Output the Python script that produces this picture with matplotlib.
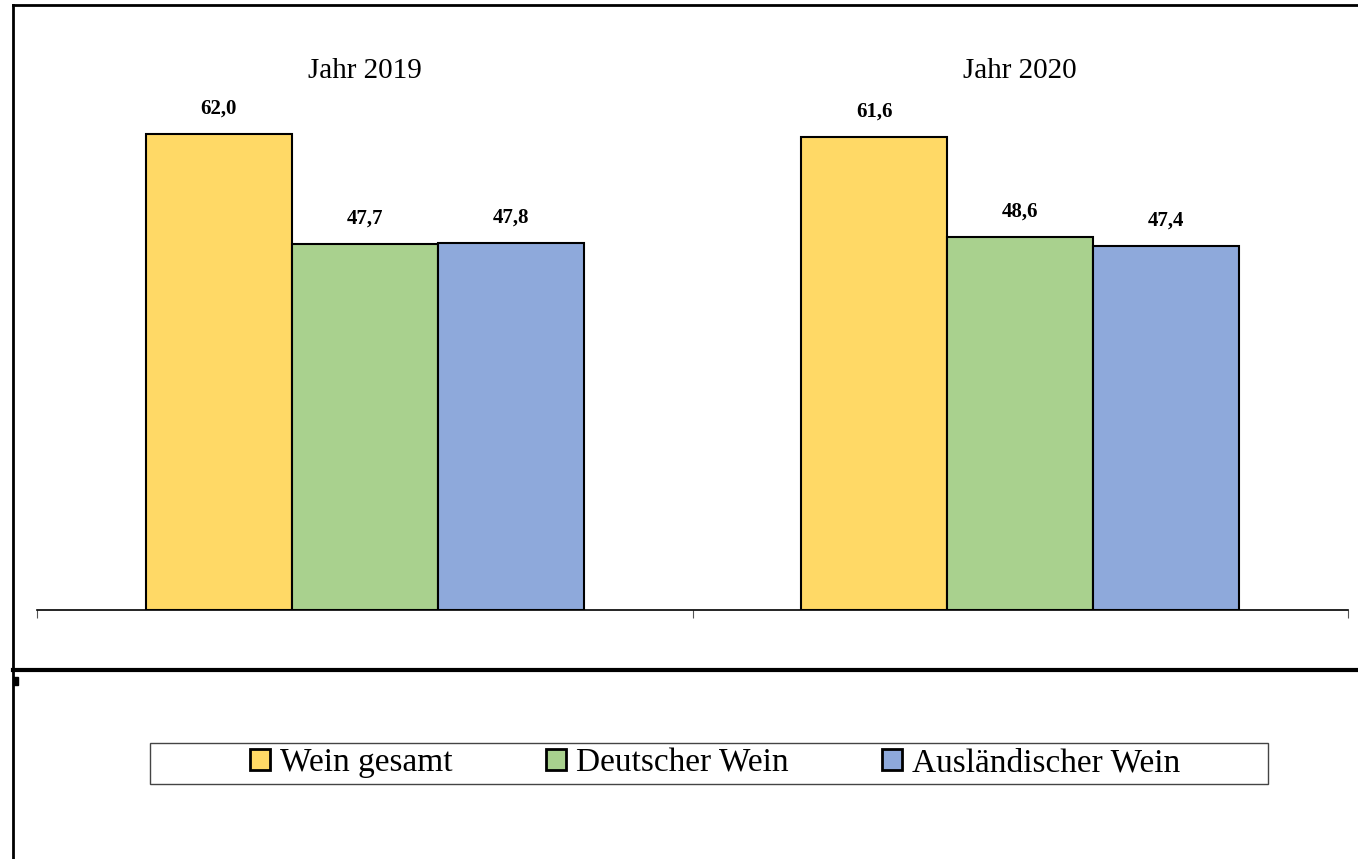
import matplotlib
matplotlib.use("Agg")
import matplotlib.pyplot as plt
import numpy as np
from matplotlib.lines import Line2D
from matplotlib.patches import Rectangle

plt.rcParams['font.family'] = ['Liberation Serif', 'DejaVu Serif']

years = ["Jahr 2019", "Jahr 2020"]
series = ["Wein gesamt", "Deutscher Wein", "Ausländischer Wein"]
wein_gesamt = [62.0, 61.6]
deutscher_wein = [47.7, 48.6]
auslaendischer_wein = [47.8, 47.4]
colors = ["#FFD966", "#A9D18E", "#8EA9DB"]

W, H = 1358, 859
fig = plt.figure(figsize=(W / 100, H / 100), dpi=100)
ax = fig.add_axes([37 / W, (H - 610) / H, (1348 - 37) / W, (610 - 5) / H])

x = np.arange(len(years))
bw = 146 / 655
values = [wein_gesamt, deutscher_wein, auslaendischer_wein]
for i, (name, vals) in enumerate(zip(series, values)):
    pos = x + (i - 1) * bw
    ax.bar(pos, vals, bw, color=colors[i], edgecolor="black", linewidth=1.5, label=name)
    for p, v in zip(pos, vals):
        ax.text(p, v + 2.0, f"{v:.1f}".replace(".", ","), ha="center", va="bottom",
                fontsize=15, fontweight="bold")

for xi, yr in zip(x, years):
    ax.text(xi, 68.5, yr, ha="center", va="bottom", fontsize=21)

ax.set_xlim(-0.5, 1.5)
ax.set_ylim(0, 78.8)
ax.set_xticks([-0.5, 0.5, 1.5])
ax.set_xticklabels([])
ax.tick_params(axis="x", length=6, width=0.8, color="#555555", direction="out")
ax.set_yticks([])
for s in ["top", "right", "left"]:
    ax.spines[s].set_visible(False)
ax.spines["bottom"].set_linewidth(1.2)
ax.patch.set_alpha(0)

# frame lines
fig.add_artist(Line2D([13 / W, 13 / W], [0, (H - 5) / H], color="black", lw=2))
fig.add_artist(Line2D([13 / W, 1], [(H - 5) / H, (H - 5) / H], color="black", lw=2))
fig.add_artist(Line2D([13 / W, 1], [(H - 670) / H, (H - 670) / H], color="black", lw=3))
fig.add_artist(Rectangle((13 / W, (H - 685) / H), 5 / W, 8 / H, color="black"))

# legend box
fig.add_artist(Rectangle((150 / W, (H - 784) / H), (1268 - 150) / W, 41 / H,
                         facecolor="white", edgecolor="#444444", lw=1))
handles = [Rectangle((0, 0), 1, 1, facecolor=c, edgecolor="black", lw=2) for c in colors]
fig.legend(handles, series, loc="center", bbox_to_anchor=(715 / W, (H - 763) / H),
           ncol=3, frameon=False, fontsize=24, handlelength=0.6, handleheight=0.6,
           handletextpad=0.3, columnspacing=2.8)

fig.savefig("out.png", dpi=100)
